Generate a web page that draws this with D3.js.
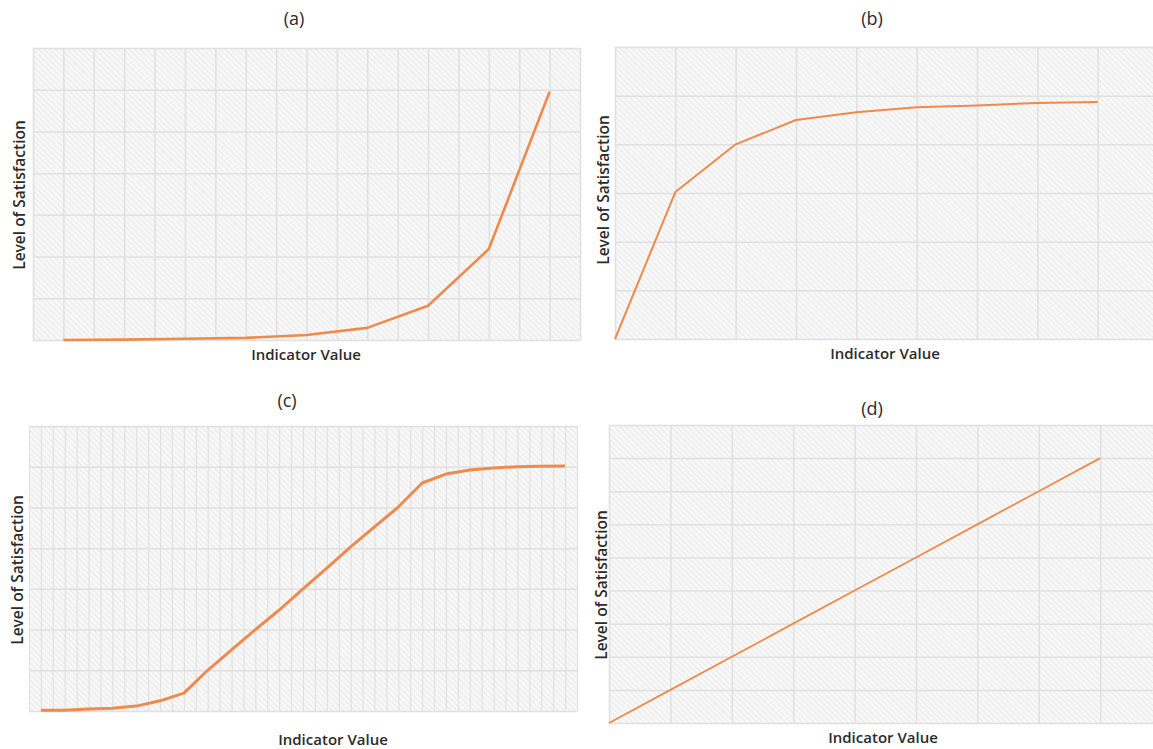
<!DOCTYPE html>
<html>
<head>
<meta charset="utf-8">
<script src="https://cdn.jsdelivr.net/npm/d3@7"></script>
<style>
  body { margin: 0; background: #fff; }
  svg text { font-family: "Open Sans", "Noto Sans", sans-serif; fill: #2b2b2b; }
</style>
</head>
<body>
<svg id="chart" width="1153" height="749"></svg>
<script>
// panel titles
const titles = ["(a)", "(b)", "(c)", "(d)"];
const xLabel = "Indicator Value";
const yLabel = "Level of Satisfaction";

// (a) exponential rise – x in grid columns, y in grid rows
const aX = [1, 3, 5, 7, 9, 11, 13, 15, 17];
const aY = [0, 0.01, 0.03, 0.05, 0.12, 0.29, 0.82, 2.18, 5.95];

// (b) saturating curve
const bX = [0, 1, 2, 3, 4, 5, 6, 7, 8];
const bY = [0, 3.02, 4.0, 4.5, 4.66, 4.76, 4.8, 4.85, 4.87];

// (c) s-curve
const cX = [1, 3, 5, 7, 9, 11, 13, 15, 17, 19, 21, 23, 25, 27, 29, 31, 33, 35, 37, 39, 41, 43, 45];
const cY = [0.02, 0.02, 0.05, 0.07, 0.12, 0.25, 0.44, 1.0, 1.5, 2.0, 2.48, 3.0, 3.51, 4.03, 4.52, 5.01,
            5.6, 5.82, 5.92, 5.97, 6.0, 6.01, 6.02];

// (d) linear
const dX = [0, 1, 2, 3, 4, 5, 6, 7, 8];
const dY = [0, 1, 2, 3, 4, 5, 6, 7, 8];

const svg = d3.select("#chart");

// diagonal hatching used as the plot background
const defs = svg.append("defs");
const pat = defs.append("pattern")
  .attr("id", "hatch")
  .attr("patternUnits", "userSpaceOnUse")
  .attr("width", 4)
  .attr("height", 4)
  .attr("patternTransform", "rotate(-45)");
pat.append("rect").attr("width", 4).attr("height", 4).attr("fill", "#f8f8f8");
pat.append("line")
  .attr("x1", 0).attr("y1", 0).attr("x2", 0).attr("y2", 4)
  .attr("stroke", "#e4e4e4")
  .attr("stroke-width", 1.5);

const panels = [
  { title: titles[0], xs: aX, ys: aY, cols: 18, rows: 7, left: 33, right: 580, top: 48, bottom: 340,
    lw: 2.6, grid: 1.5, titleX: 294, titleY: 25, xlX: 306, xlY: 360, ylX: 25, ylY: 195 },
  { title: titles[1], xs: bX, ys: bY, cols: 9, rows: 6, left: 615, right: 1158, top: 47, bottom: 339,
    lw: 2, grid: 1.5, titleX: 872, titleY: 25, xlX: 885, xlY: 359, ylX: 609, ylY: 190 },
  { title: titles[2], xs: cX, ys: cY, cols: 46, rows: 7, left: 29, right: 577, top: 426, bottom: 711,
    lw: 3, grid: 1.1, titleX: 287, titleY: 407, xlX: 333, xlY: 745, ylX: 23, ylY: 570 },
  { title: titles[3], xs: dX, ys: dY, cols: 9, rows: 9, left: 609, right: 1161.6, top: 425, bottom: 723,
    lw: 1.8, grid: 1.5, titleX: 872, titleY: 415, xlX: 883, xlY: 743, ylX: 607, ylY: 585 }
];

panels.forEach((p) => {
  const g = svg.append("g");

  const x = d3.scaleLinear().domain([0, p.cols]).range([p.left, p.right]);
  const y = d3.scaleLinear().domain([0, p.rows]).range([p.bottom, p.top]);

  g.append("rect")
    .attr("x", p.left)
    .attr("y", p.top)
    .attr("width", p.right - p.left)
    .attr("height", p.bottom - p.top)
    .attr("fill", "url(#hatch)");

  // vertical grid
  g.append("g")
    .attr("transform", `translate(0,${p.bottom})`)
    .call(d3.axisBottom(x).tickValues(d3.range(0, p.cols + 1)).tickSize(-(p.bottom - p.top)).tickFormat(""))
    .call((ax) => ax.select(".domain").remove())
    .selectAll("line")
    .attr("stroke", "#e0e0e0")
    .attr("stroke-width", p.grid);

  // horizontal grid
  g.append("g")
    .attr("transform", `translate(${p.left},0)`)
    .call(d3.axisLeft(y).tickValues(d3.range(0, p.rows + 1)).tickSize(-(p.right - p.left)).tickFormat(""))
    .call((ax) => ax.select(".domain").remove())
    .selectAll("line")
    .attr("stroke", "#e0e0e0")
    .attr("stroke-width", 1.5);

  const line = d3.line()
    .x((d, i) => x(p.xs[i]))
    .y((d) => y(d));

  g.append("path")
    .datum(p.ys)
    .attr("fill", "none")
    .attr("stroke", "#ee8a4b")
    .attr("stroke-width", p.lw)
    .attr("stroke-linejoin", "round")
    .attr("d", line);

  g.append("text")
    .attr("x", p.titleX)
    .attr("y", p.titleY)
    .attr("text-anchor", "middle")
    .style("font-size", "18px")
    .text(p.title);

  g.append("text")
    .attr("x", p.xlX)
    .attr("y", p.xlY)
    .attr("text-anchor", "middle")
    .style("font-size", "15px")
    .style("font-weight", 600)
    .text(xLabel);

  g.append("text")
    .attr("transform", `translate(${p.ylX},${p.ylY}) rotate(-90)`)
    .attr("text-anchor", "middle")
    .style("font-size", "15.5px")
    .style("font-weight", 600)
    .text(yLabel);
});
</script>
</body>
</html>
